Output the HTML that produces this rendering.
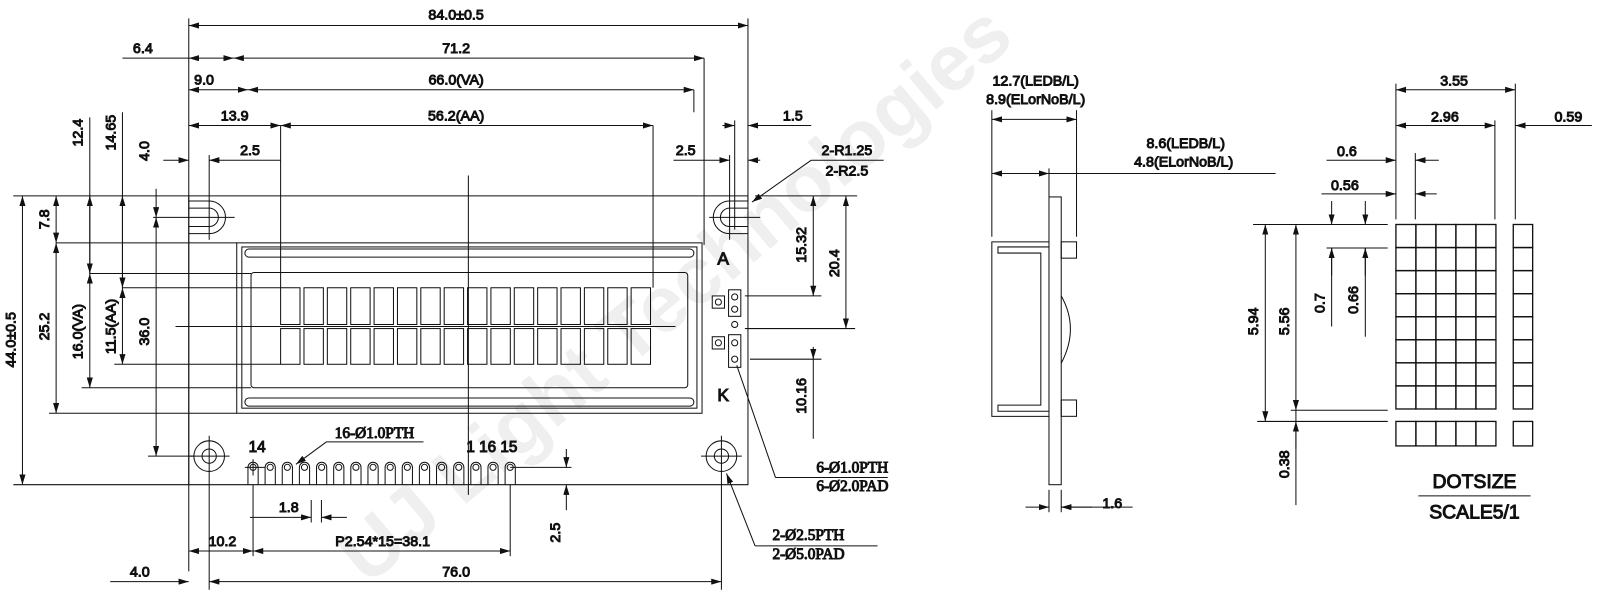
<!DOCTYPE html>
<html><head><meta charset="utf-8"><style>
html,body{margin:0;padding:0;background:#fff;width:1600px;height:600px;overflow:hidden}
svg text{font-family:"Liberation Sans",sans-serif;font-size:14px;fill:#111}
.s text{font-family:"Liberation Serif",serif}
</style></head><body>
<svg id="g" width="1600" height="600" viewBox="0 0 1568 588" preserveAspectRatio="none" xmlns="http://www.w3.org/2000/svg" fill="none" stroke="#111" stroke-width="1">
<defs>
<marker id="a" viewBox="0 0 10 6" refX="10" refY="3" markerWidth="10" markerHeight="6" orient="auto-start-reverse" markerUnits="userSpaceOnUse"><path d="M0,0L10,3L0,6z" fill="#111" stroke="none"/></marker>
</defs>
<text x="0" y="0" transform="translate(360,575) rotate(-40)" style="font-size:78px;font-weight:bold;fill:#efefef" stroke="none">UJ Light Technologies</text>

<g stroke-width="1">
<line x1="185" y1="18" x2="185" y2="560"/>
<line x1="733" y1="18" x2="733" y2="200"/>
<line x1="185" y1="25" x2="733" y2="25" marker-start="url(#a)" marker-end="url(#a)"/>
<line x1="120" y1="57" x2="185" y2="57"/>
<line x1="185" y1="57" x2="229" y2="57" marker-start="url(#a)" marker-end="url(#a)"/>
<line x1="229" y1="57" x2="690" y2="57" marker-start="url(#a)" marker-end="url(#a)"/>
<line x1="690" y1="57" x2="690" y2="240"/>
<line x1="185" y1="88" x2="243" y2="88" marker-start="url(#a)" marker-end="url(#a)"/>
<line x1="243" y1="88" x2="680" y2="88" marker-start="url(#a)" marker-end="url(#a)"/>
<line x1="680" y1="88" x2="680" y2="110"/>
<line x1="185" y1="123" x2="275" y2="123" marker-start="url(#a)" marker-end="url(#a)"/>
<line x1="275" y1="123" x2="640" y2="123" marker-start="url(#a)" marker-end="url(#a)"/>
<line x1="275" y1="123" x2="275" y2="282"/>
<line x1="640" y1="123" x2="640" y2="282"/>
<line x1="708" y1="123" x2="720" y2="123" marker-end="url(#a)"/>
<line x1="745" y1="123" x2="733" y2="123" marker-end="url(#a)"/>
<line x1="733" y1="123" x2="795" y2="123"/>
<line x1="720" y1="118" x2="720" y2="225"/>
<line x1="160" y1="157" x2="185" y2="157" marker-end="url(#a)"/>
<line x1="275" y1="157" x2="205" y2="157" marker-end="url(#a)"/>
<line x1="205" y1="152" x2="205" y2="235"/>
<line x1="660" y1="157" x2="715" y2="157" marker-end="url(#a)"/>
<line x1="745" y1="157" x2="733" y2="157" marker-end="url(#a)"/>
<line x1="715" y1="152" x2="715" y2="235"/>
<line x1="795" y1="157" x2="866" y2="157"/>
<line x1="795" y1="157" x2="737" y2="198" marker-end="url(#a)"/>
</g>
<text x="447" y="19" text-anchor="middle">84.0±0.5</text>
<text x="140" y="52" text-anchor="middle">6.4</text>
<text x="447" y="52" text-anchor="middle">71.2</text>
<text x="200" y="83" text-anchor="middle">9.0</text>
<text x="447" y="83" text-anchor="middle">66.0(VA)</text>
<text x="230" y="118" text-anchor="middle">13.9</text>
<text x="447" y="118" text-anchor="middle">56.2(AA)</text>
<text x="777" y="118" text-anchor="middle">1.5</text>
<text x="245" y="152" text-anchor="middle">2.5</text>
<text x="672" y="152" text-anchor="middle">2.5</text>
<text x="830" y="152" text-anchor="middle">2-R1.25</text>
<text x="830" y="172" text-anchor="middle">2-R2.5</text>

<path d="M185,192 H733 V475 H185 Z"/>
<line x1="13" y1="192" x2="185" y2="192"/>
<line x1="13" y1="475" x2="185" y2="475"/>
<path d="M185,204 H205 A9,9 0 0 1 205,222 H185"/>
<path d="M185,197 H205 A16,16 0 0 1 205,229 H185" />
<path d="M733,204 H715 A9,9 0 0 0 715,222 H733"/>
<path d="M733,197 H715 A16,16 0 0 0 715,229 H733"/>
<line x1="150" y1="213" x2="230" y2="213"/>
<line x1="695" y1="213" x2="745" y2="213"/>
<rect x="232" y="238" width="456" height="167"/>
<rect x="237" y="242" width="446" height="158"/>
<rect x="240" y="244" width="440" height="8" rx="4"/>
<rect x="240" y="390" width="440" height="8" rx="4"/>
<rect x="246" y="267" width="428" height="113" rx="3"/>
<g id="chars"></g>
<line x1="172" y1="320" x2="662" y2="320"/>
<line x1="459" y1="172" x2="459" y2="485"/>
<text x="703" y="259" style="font-size:17px">A</text>
<text x="703" y="393" style="font-size:17px">K</text>
<g stroke-width="1">
<rect x="698" y="290" width="12" height="12"/><circle cx="704" cy="296" r="3"/>
<rect x="714" y="284" width="12" height="26"/><circle cx="720" cy="291" r="3"/><circle cx="720" cy="303" r="3"/>
<circle cx="720" cy="318" r="3"/>
<rect x="698" y="330" width="12" height="12"/><circle cx="704" cy="336" r="3"/>
<rect x="714" y="328" width="12" height="32"/><circle cx="720" cy="336" r="3"/><circle cx="720" cy="352" r="3"/>
</g>
<line x1="22" y1="192" x2="22" y2="475" marker-start="url(#a)" marker-end="url(#a)"/>
<line x1="55" y1="192" x2="55" y2="238" marker-start="url(#a)" marker-end="url(#a)"/>
<line x1="55" y1="238" x2="232" y2="238"/>
<line x1="55" y1="238" x2="55" y2="405" marker-start="url(#a)" marker-end="url(#a)"/>
<line x1="48" y1="405" x2="232" y2="405"/>
<line x1="88" y1="115" x2="88" y2="268"/>
<line x1="88" y1="192" x2="88" y2="268" marker-start="url(#a)" marker-end="url(#a)"/>
<line x1="88" y1="268" x2="88" y2="380" marker-start="url(#a)" marker-end="url(#a)"/>
<line x1="88" y1="268" x2="246" y2="268"/>
<line x1="80" y1="380" x2="246" y2="380"/>
<line x1="120" y1="110" x2="120" y2="282"/>
<line x1="120" y1="192" x2="120" y2="282" marker-start="url(#a)" marker-end="url(#a)"/>
<line x1="120" y1="282" x2="120" y2="357" marker-start="url(#a)" marker-end="url(#a)"/>
<line x1="120" y1="282" x2="275" y2="282"/>
<line x1="112" y1="357" x2="275" y2="357"/>
<line x1="153" y1="185" x2="153" y2="213" marker-end="url(#a)"/>
<line x1="153" y1="213" x2="153" y2="447" marker-start="url(#a)" marker-end="url(#a)"/>
<line x1="145" y1="447" x2="190" y2="447"/>
<text transform="translate(15,333) rotate(-90)" text-anchor="middle">44.0±0.5</text>
<text transform="translate(48,215) rotate(-90)" text-anchor="middle">7.8</text>
<text transform="translate(48,320) rotate(-90)" text-anchor="middle">25.2</text>
<text transform="translate(81,130) rotate(-90)" text-anchor="middle">12.4</text>
<text transform="translate(81,325) rotate(-90)" text-anchor="middle">16.0(VA)</text>
<text transform="translate(113,130) rotate(-90)" text-anchor="middle">14.65</text>
<text transform="translate(113,320) rotate(-90)" text-anchor="middle">11.5(AA)</text>
<text transform="translate(146,148) rotate(-90)" text-anchor="middle">4.0</text>
<text transform="translate(146,325) rotate(-90)" text-anchor="middle">36.0</text>
<line x1="740" y1="192" x2="840" y2="192"/>
<line x1="797" y1="192" x2="797" y2="290" marker-start="url(#a)" marker-end="url(#a)"/>
<line x1="730" y1="290" x2="805" y2="290"/>
<line x1="829" y1="192" x2="829" y2="322" marker-start="url(#a)" marker-end="url(#a)"/>
<line x1="730" y1="322" x2="838" y2="322"/>
<line x1="735" y1="352" x2="805" y2="352"/>
<line x1="797" y1="340" x2="797" y2="352" marker-end="url(#a)"/>
<line x1="797" y1="352" x2="797" y2="430"/>
<text transform="translate(790,240) rotate(-90)" text-anchor="middle">15.32</text>
<text transform="translate(822,258) rotate(-90)" text-anchor="middle">20.4</text>
<text transform="translate(790,388) rotate(-90)" text-anchor="middle">10.16</text>
<circle cx="205" cy="447" r="15"/><circle cx="205" cy="447" r="7"/>
<circle cx="707" cy="447" r="15"/><circle cx="707" cy="447" r="7"/>
<line x1="185" y1="447" x2="225" y2="447"/><line x1="205" y1="427" x2="205" y2="578"/>
<line x1="687" y1="447" x2="727" y2="447"/><line x1="707" y1="427" x2="707" y2="578"/>
<g id="pins"></g>
<line x1="500" y1="458" x2="560" y2="458"/>
<line x1="555" y1="440" x2="555" y2="458" marker-end="url(#a)"/>
<line x1="555" y1="500" x2="555" y2="475" marker-end="url(#a)"/>
<line x1="248" y1="475" x2="248" y2="545"/>
<line x1="500" y1="475" x2="500" y2="545"/>
<line x1="305" y1="490" x2="305" y2="512"/><line x1="315" y1="490" x2="315" y2="512"/>
<line x1="245" y1="507" x2="305" y2="507" marker-end="url(#a)"/>
<line x1="340" y1="507" x2="315" y2="507" marker-end="url(#a)"/>
<line x1="185" y1="540" x2="248" y2="540" marker-start="url(#a)" marker-end="url(#a)"/>
<line x1="248" y1="540" x2="500" y2="540" marker-start="url(#a)" marker-end="url(#a)"/>
<line x1="108" y1="570" x2="185" y2="570" marker-end="url(#a)"/>
<line x1="205" y1="570" x2="707" y2="570" marker-start="url(#a)" marker-end="url(#a)"/>
<line x1="320" y1="433" x2="415" y2="433"/>
<line x1="320" y1="433" x2="290" y2="455" marker-end="url(#a)"/>
<text x="252" y="443" text-anchor="middle" style="font-size:15px">14</text>
<text x="482" y="443" text-anchor="middle" style="font-size:15px">1 16 15</text>
<text x="283" y="502" text-anchor="middle">1.8</text>
<text transform="translate(549,522) rotate(-90)" text-anchor="middle">2.5</text>
<text x="218" y="535" text-anchor="middle">10.2</text>
<text x="375" y="535" text-anchor="middle">P2.54*15=38.1</text>
<text x="137" y="565" text-anchor="middle">4.0</text>
<text x="447" y="565" text-anchor="middle">76.0</text>
<g class="s">
<text x="367" y="429" text-anchor="middle" style="font-size:15px">16-Ø1.0PTH</text>
<text x="800" y="463" style="font-size:15px">6-Ø1.0PTH</text>
<text x="800" y="481" style="font-size:15px">6-Ø2.0PAD</text>
<text x="757" y="529" style="font-size:15px">2-Ø2.5PTH</text>
<text x="757" y="548" style="font-size:15px">2-Ø5.0PAD</text>
</g>
<line x1="760" y1="468" x2="870" y2="468"/>
<line x1="760" y1="468" x2="722" y2="358"/>
<line x1="740" y1="535" x2="860" y2="535"/>
<line x1="740" y1="535" x2="712" y2="464" marker-end="url(#a)"/>

<rect x="1028" y="193" width="12" height="282"/>
<path d="M1028,237 H972 V408 H1028"/>
<path d="M1028,242 H978 V248 H1020 V397 H978 V403 H1028"/>
<rect x="1040" y="237" width="15" height="16"/>
<rect x="1040" y="392" width="15" height="16"/>
<path d="M1040,290 Q1058,322 1040,356"/>
<line x1="972" y1="108" x2="972" y2="232"/>
<line x1="1055" y1="108" x2="1055" y2="232"/>
<line x1="972" y1="117" x2="1055" y2="117" marker-start="url(#a)" marker-end="url(#a)"/>
<line x1="972" y1="170" x2="1028" y2="170" marker-start="url(#a)" marker-end="url(#a)"/>
<line x1="1028" y1="165" x2="1028" y2="193"/>
<line x1="1028" y1="170" x2="1250" y2="170"/>
<line x1="1028" y1="480" x2="1028" y2="502"/><line x1="1040" y1="480" x2="1040" y2="502"/>
<line x1="1005" y1="497" x2="1028" y2="497" marker-end="url(#a)"/>
<line x1="1070" y1="497" x2="1040" y2="497" marker-end="url(#a)"/>
<line x1="1040" y1="497" x2="1110" y2="497"/>
<text x="1015" y="84" text-anchor="middle">12.7(LEDB/L)</text>
<text x="1015" y="102" text-anchor="middle">8.9(ELorNoB/L)</text>
<text x="1162" y="145" text-anchor="middle">8.6(LEDB/L)</text>
<text x="1160" y="163" text-anchor="middle">4.8(ELorNoB/L)</text>
<text x="1090" y="498" text-anchor="middle">1.6</text>

<g id="grid" stroke-width="1.3"></g>
<line x1="1368" y1="82" x2="1368" y2="215"/>
<line x1="1485" y1="82" x2="1485" y2="215"/>
<line x1="1465" y1="118" x2="1465" y2="215"/>
<line x1="1387" y1="150" x2="1387" y2="215"/>
<line x1="1368" y1="88" x2="1485" y2="88" marker-start="url(#a)" marker-end="url(#a)"/>
<line x1="1368" y1="123" x2="1465" y2="123" marker-start="url(#a)" marker-end="url(#a)"/>
<line x1="1540" y1="123" x2="1485" y2="123" marker-end="url(#a)"/>
<line x1="1540" y1="123" x2="1560" y2="123"/>
<line x1="1300" y1="157" x2="1368" y2="157" marker-end="url(#a)"/>
<line x1="1410" y1="157" x2="1387" y2="157" marker-end="url(#a)"/>
<line x1="1295" y1="190" x2="1368" y2="190" marker-end="url(#a)"/>
<line x1="1408" y1="190" x2="1387" y2="190" marker-end="url(#a)"/>
<line x1="1228" y1="220" x2="1360" y2="220"/>
<line x1="1300" y1="243" x2="1360" y2="243"/>
<line x1="1265" y1="402" x2="1360" y2="402"/>
<line x1="1232" y1="413" x2="1360" y2="413"/>
<line x1="1240" y1="220" x2="1240" y2="413" marker-start="url(#a)" marker-end="url(#a)"/>
<line x1="1270" y1="220" x2="1270" y2="402" marker-start="url(#a)" marker-end="url(#a)"/>
<line x1="1270" y1="402" x2="1270" y2="495"/>
<line x1="1270" y1="440" x2="1270" y2="413" marker-end="url(#a)"/>
<line x1="1305" y1="197" x2="1305" y2="220" marker-end="url(#a)"/>
<line x1="1305" y1="270" x2="1305" y2="243" marker-end="url(#a)"/>
<line x1="1305" y1="243" x2="1305" y2="320"/>
<line x1="1338" y1="197" x2="1338" y2="220" marker-end="url(#a)"/>
<line x1="1338" y1="270" x2="1338" y2="243" marker-end="url(#a)"/>
<line x1="1338" y1="243" x2="1338" y2="330"/>
<text x="1425" y="84" text-anchor="middle">3.55</text>
<text x="1416" y="119" text-anchor="middle">2.96</text>
<text x="1537" y="119" text-anchor="middle">0.59</text>
<text x="1320" y="153" text-anchor="middle">0.6</text>
<text x="1318" y="186" text-anchor="middle">0.56</text>
<text transform="translate(1233,315) rotate(-90)" text-anchor="middle">5.94</text>
<text transform="translate(1263,315) rotate(-90)" text-anchor="middle">5.56</text>
<text transform="translate(1298,297) rotate(-90)" text-anchor="middle">0.7</text>
<text transform="translate(1331,294) rotate(-90)" text-anchor="middle">0.66</text>
<text transform="translate(1263,455) rotate(-90)" text-anchor="middle">0.38</text>
<text x="1445" y="478" text-anchor="middle" style="font-size:19px">DOTSIZE</text>
<line x1="1390" y1="486" x2="1500" y2="486"/>
<text x="1445" y="508" text-anchor="middle" style="font-size:19px">SCALE5/1</text>
</svg>
<script>
var NS="http://www.w3.org/2000/svg";
function el(p,t,a){var e=document.createElementNS(NS,t);for(var k in a)e.setAttribute(k,a[k]);p.appendChild(e);return e;}
var c=document.getElementById("chars");
for(var i=0;i<16;i++){var x=275+i*22.9;
 el(c,"rect",{x:x,y:282,width:19,height:36});
 el(c,"rect",{x:x,y:322,width:19,height:35});}
var p=document.getElementById("pins");
for(var i=0;i<16;i++){var x=248+i*16.8;
 el(p,"path",{d:"M"+(x-5)+",475 V458 A5,5 0 0 1 "+(x+5)+",458 V475"});
 el(p,"circle",{cx:x,cy:458,r:3});}
el(p,"line",{x1:240,y1:458,x2:260,y2:458});
el(p,"line",{x1:248,y1:450,x2:248,y2:466});
var g=document.getElementById("grid");
for(var r=0;r<8;r++)for(var k=0;k<5;k++)el(g,"rect",{x:1368+k*19.6,y:220+r*22.6,width:19.6,height:22.6});
for(var r=0;r<8;r++)el(g,"rect",{x:1483,y:220+r*22.6,width:19,height:22.6});
for(var k=0;k<5;k++)el(g,"rect",{x:1368+k*19.6,y:413,width:19.6,height:24});
el(g,"rect",{x:1483,y:413,width:19,height:24});
</script>
</body></html>
